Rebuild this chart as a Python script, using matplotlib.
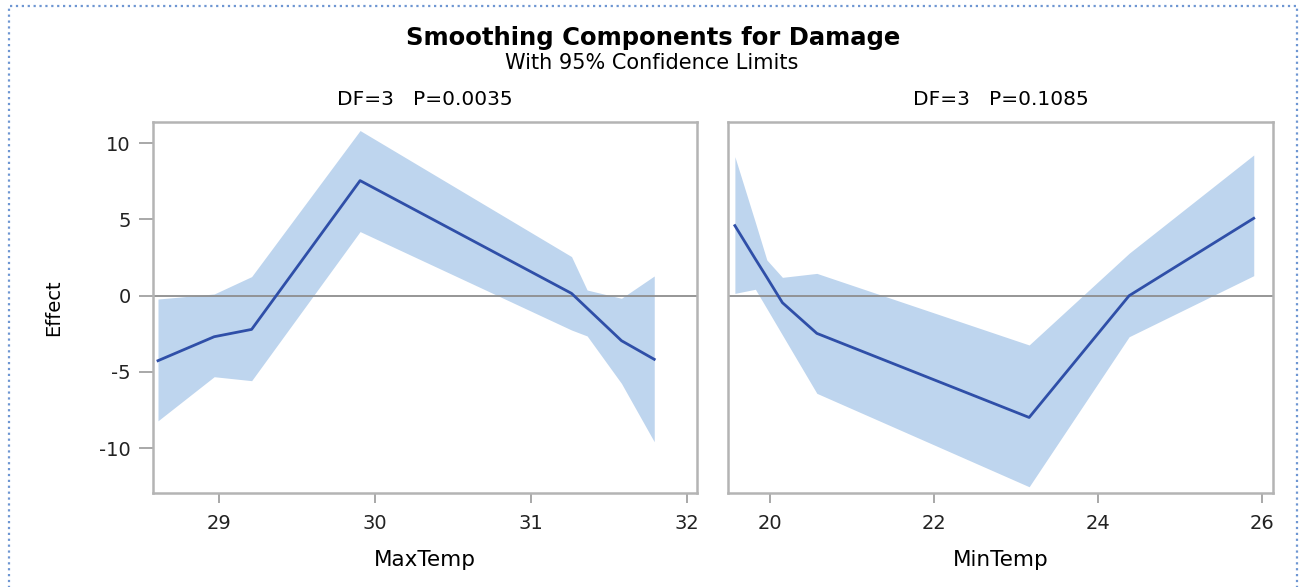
import matplotlib
matplotlib.use('Agg')

from matplotlib import pyplot as plt
from matplotlib.patches import Rectangle

plt.rcParams['font.family'] = ['DejaVu Sans']
plt.rcParams['axes.unicode_minus'] = False

# MaxTemp component
max_x = [28.61, 28.97, 29.21, 29.905, 31.26, 31.36, 31.58, 31.79]
max_fit = [-4.26, -2.69, -2.21, 7.54, 0.15, -0.82, -2.95, -4.17]
max_upper = [-0.22, 0.11, 1.25, 10.82, 2.56, 0.37, -0.17, 1.29]
max_lower = [-8.2, -5.31, -5.57, 4.2, -2.25, -2.64, -5.75, -9.57]

# MinTemp component
min_x = [19.57, 19.82, 19.96, 20.15, 20.57, 23.16, 24.38, 25.90]
min_fit = [4.59, 2.4, 1.2, -0.46, -2.47, -7.98, 0.0, 5.07]
min_upper = [9.11, 4.8, 2.34, 1.20, 1.46, -3.23, 2.78, 9.22]
min_lower = [0.15, 0.42, -0.85, -2.58, -6.40, -12.52, -2.69, 1.31]

titles = ["DF=3   P=0.0035", "DF=3   P=0.1085"]
xlabels = ["MaxTemp", "MinTemp"]
xticks = [[29, 30, 31, 32], [20, 22, 24, 26]]
xlims = [(28.578, 32.064), (19.486, 26.135)]
yticks = [-10, -5, 0, 5, 10]

fill_col = '#BED5EE'
line_col = '#2F4FA8'
frame_col = '#B4B4B4'

fig = plt.figure(figsize=(13.04, 5.87), dpi=100)
ax1 = fig.add_axes([153/1304, 1-493/587, 544/1304, 371/587])
ax2 = fig.add_axes([728/1304, 1-493/587, 545/1304, 371/587], sharey=ax1)

data = [(max_x, max_fit, max_upper, max_lower),
        (min_x, min_fit, min_upper, min_lower)]

for i, ax in enumerate([ax1, ax2]):
    x, fit, up, lo = data[i]
    ax.fill_between(x, lo, up, color=fill_col, linewidth=0, zorder=1)
    ax.axhline(0, color='#8E8E8E', linewidth=1.3, zorder=2)
    ax.plot(x, fit, color=line_col, linewidth=2, zorder=3)
    ax.set_xlim(xlims[i])
    ax.set_ylim(-12.93, 11.38)
    ax.set_xticks(xticks[i])
    ax.set_yticks(yticks)
    for s in ax.spines.values():
        s.set_color(frame_col)
        s.set_linewidth(1.8)
    ax.tick_params(direction='out', width=1.2, color='#9A9A9A',
                   labelsize=14, labelcolor='#222222')
    ax.tick_params(axis='x', length=7, pad=8)
    ax.tick_params(axis='y', length=10, pad=6)
    ax.set_title(titles[i], fontsize=14.5, pad=12)
    ax.set_xlabel(xlabels[i], fontsize=15.5, labelpad=12)

ax1.set_ylabel("Effect", fontsize=14, labelpad=26)
ax2.tick_params(axis='y', left=False, labelleft=False)

fig.text(0.501, 0.935, "Smoothing Components for Damage",
         ha='center', va='center', fontsize=17.5, fontweight='bold')
fig.text(0.5, 0.892, "With 95% Confidence Limits",
         ha='center', va='center', fontsize=15)

# dotted frame around the picture
fig.patches.append(Rectangle((9/1304, -0.02), 1288/1304, 1.02 - 6/587,
                             transform=fig.transFigure, fill=False,
                             edgecolor='#6E96D2', linestyle=':',
                             linewidth=1.6))

fig.savefig('out.png')
